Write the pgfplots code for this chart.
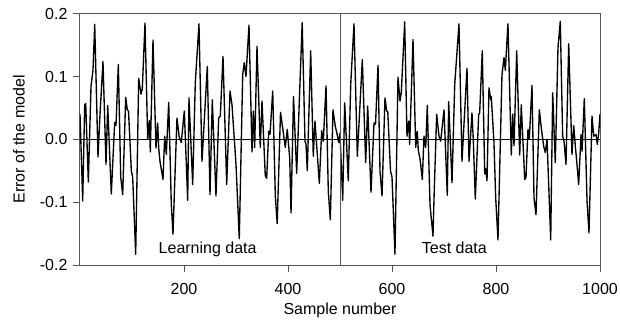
\documentclass[border=0pt]{standalone}
\usepackage{fontspec}
\setmainfont{Liberation Sans}
\usepackage{pgfplots}
\pgfplotsset{compat=1.18}
\definecolor{framegray}{RGB}{85,85,85}
\begin{document}
\fontsize{16}{19}\selectfont
\begin{tikzpicture}
\begin{axis}[
  scale only axis, width=520pt, height=251.3pt,
  xmin=0, xmax=1000, ymin=-0.2, ymax=0.2,
  axis line style={framegray, line width=1pt},
  tick align=outside, tick pos=left, major tick length=7pt,
  tick style={framegray, line width=1pt},
  xtick={200,400,600,800,1000}, xticklabels={200,400,600,800,1000},
  ytick={-0.2,-0.1,0,0.1,0.2}, yticklabels={-0.2,-0.1,0.0,0.1,0.2},
  tick label style={font=\fontsize{16}{19}\selectfont},
  xticklabel style={yshift=-6pt},
  xlabel={Sample number}, ylabel={Error of the model},
  label style={font=\fontsize{16}{19}\selectfont},
  xlabel style={at={(axis description cs:0.5,-0.18)}, anchor=center},
  ylabel style={at={(axis description cs:-0.1173,0.5)}, anchor=center},
  clip=true,
]
\addplot[black, line width=1.35pt, line join=round] coordinates {
(0,0.040) (5.2,-0.098) (9.0,0.055) (11.0,0.057) (16.0,-0.068) (21.2,0.085) (25.0,0.110) (28.3,0.183)
(34.6,-0.028) (38.5,0.040) (44.2,0.124) (50.0,-0.040) (53.3,0.054) (60.2,-0.087) (66.7,0.027) (69.2,0.022)
(73.7,0.119) (78.3,-0.060) (82.1,-0.088) (87.9,0.067) (91.0,0.047) (93.3,0.045) (98.7,-0.050) (101.3,-0.060)
(107.1,-0.183) (112.9,0.097) (117.3,0.072) (119.8,0.080) (125.0,0.185) (130.2,0.000) (133.3,0.030) (135.2,-0.020)
(140.4,0.158) (146.1,-0.014) (149.4,0.026) (151.3,-0.013) (153.8,-0.035) (159.6,-0.064) (162.9,0.005) (166.0,-0.024)
(170.6,0.059) (175.6,-0.104) (178.8,-0.151) (181.7,-0.080) (186.5,0.034) (190.9,0.003) (194.8,-0.005) (200.6,0.045)
(207.1,-0.097) (209.6,0.066) (216.7,-0.072) (221.7,0.090) (228.8,0.184) (234.6,-0.035) (244.8,0.116) (250.0,-0.088)
(254.4,0.063) (261.5,-0.090) (266.7,0.034) (269.8,0.037) (275.0,0.132) (282.1,-0.072) (288.5,0.077) (292.3,0.055)
(300.0,-0.040) (306.3,-0.158) (312.9,0.103) (315.9,0.122) (319.2,0.100) (325.0,0.182) (330.8,-0.020) (333.3,0.045)
(335.9,-0.013) (340.4,0.148) (346.7,-0.013) (350.0,0.061) (356.3,-0.058) (359.0,-0.062) (362.9,0.013) (365.4,0.008)
(370.6,0.077) (375.6,-0.090) (379.2,-0.134) (385.6,0.043) (389.8,0.018) (394.8,-0.013) (398.6,0.016) (403.3,-0.030)
(405.8,-0.117) (410.6,0.068) (416.7,-0.054) (427.3,0.186) (432.7,-0.003) (434.6,-0.008) (437.1,-0.050) (443.6,0.141)
(448.6,-0.027) (451.9,0.029) (460.2,-0.070) (464.8,0.014) (467.9,-0.003) (473.1,0.085) (477.5,-0.083) (481.4,-0.128)
(486.5,0.047) (490.9,0.021) (494.0,0.010) (497.5,-0.005) (500.0,0.010)
(505.2,-0.097) (509.0,0.058) (515.9,-0.066) (520.6,0.087) (526.9,0.184) (533.3,-0.027) (537.5,0.040) (542.9,0.127)
(549.4,-0.037) (553.2,0.053) (559.6,-0.084) (565.4,0.026) (568.3,0.024) (573.1,0.118) (576.9,-0.050) (580.8,-0.090)
(586.5,0.066) (589.8,0.045) (591.9,0.044) (597.1,-0.050) (600.0,-0.060) (605.7,-0.183) (611.5,0.099) (615.4,0.061)
(617.9,0.075) (624.4,0.187) (628.8,0.005) (632.1,0.029) (634.0,-0.008) (640.4,0.159) (645.6,-0.013) (648.6,0.013)
(650.6,-0.018) (653.8,-0.030) (658.3,-0.064) (661.5,0.005) (664.8,-0.013) (667.9,0.054) (673.1,-0.104) (678.8,-0.154)
(681.3,-0.080) (685.9,0.040) (690.4,0.005) (693.6,-0.003) (700.0,0.047) (706.3,-0.089) (709.0,0.060) (715.4,-0.069)
(720.6,0.087) (728.8,0.184) (734.6,-0.035) (744.2,0.113) (748.1,-0.035) (753.8,0.042) (756.3,0.000) (760.2,-0.095)
(766.7,0.040) (768.6,0.042) (773.6,0.141) (778.3,-0.055) (780.2,-0.047) (782.7,-0.066) (786.5,0.082) (789.8,0.063)
(790.9,0.068) (796.1,-0.005) (799.4,-0.093) (803.8,-0.160) (811.5,0.103) (815.4,0.130) (817.9,0.110) (823.0,0.184)
(829.4,-0.025) (832.1,0.040) (834.6,-0.010) (839.8,0.141) (845.6,-0.025) (848.6,0.055) (855.2,-0.064) (857.7,-0.060)
(861.5,0.016) (864.0,0.000) (869.2,0.086) (873.1,-0.093) (876.9,-0.120) (883.3,0.047) (887.1,0.018) (891.7,-0.011)
(894.8,-0.021) (898.1,0.000) (905.2,-0.160) (909.0,0.074) (914.0,-0.037) (919.2,0.146) (923.6,0.188) (928.2,0.005)
(930.8,-0.003) (934.6,-0.040) (939.8,0.152) (946.1,-0.024) (949.4,0.022) (952.5,-0.010) (956.3,-0.045) (959.0,-0.072)
(963.5,0.008) (965.4,-0.019) (969.8,0.065) (975.0,-0.097) (978.8,-0.149) (984.6,0.037) (987.9,0.005) (992.3,0.008)
(994.8,-0.008) (997.5,0.010) (1000,0.040)
};
\addplot[black, line width=1pt] coordinates {(0,0) (1000,0)};
\addplot[framegray, line width=1pt] coordinates {(500,-0.2) (500,0.2)};
\node[anchor=base west, inner sep=0pt, font=\fontsize{16}{19}\selectfont] at (axis cs:151,-0.182) {Learning data};
\node[anchor=base west, inner sep=0pt, font=\fontsize{16}{19}\selectfont] at (axis cs:657,-0.182) {Test data};
\end{axis}
\pgfresetboundingbox
\path[use as bounding box] (-80pt,-59pt) rectangle (540pt,265pt);
\end{tikzpicture}
\end{document}
